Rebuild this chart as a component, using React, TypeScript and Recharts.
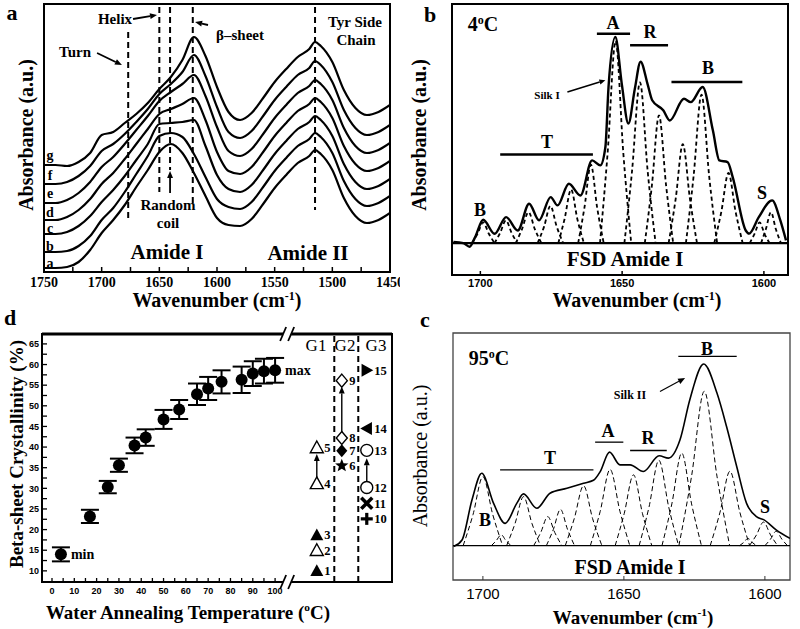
import React from 'react';
import {
  LineChart, Line, XAxis, YAxis, ReferenceLine, ReferenceArea, ReferenceDot,
  ComposedChart, Scatter, ErrorBar,
} from 'recharts';

const SERIF = '"Liberation Serif", "Times New Roman", serif';
const SANS = '"Liberation Sans", Arial, sans-serif';

// ---------------- Panel a : FTIR spectra (a..g) ----------------
const aWavenumbers = [1750, 1740, 1730, 1720, 1710, 1700, 1690, 1680, 1670, 1660, 1650, 1640, 1630, 1620, 1610, 1600, 1590, 1580, 1570, 1560, 1550, 1540, 1530, 1520, 1515, 1510, 1500, 1490, 1480, 1470, 1460, 1450];
const aCurveA = [4, 4, 5, 10, 22, 39, 52, 67, 85, 102, 120, 128, 119, 99, 76, 54, 47, 46, 53, 68, 84, 97, 109, 116, 122, 118, 102, 74, 56, 49, 52, 59];
const aCurveB = [20, 20, 21, 26, 36, 52, 64, 80, 98, 116, 136, 139, 135, 118, 95, 73, 65, 63, 70, 85, 101, 114, 126, 133, 139, 135, 119, 91, 73, 66, 69, 76];
const aCurveC = [38, 38, 40, 46, 56, 70, 82, 96, 112, 128, 148, 149, 150, 152, 126, 97, 83, 80, 87, 102, 118, 131, 143, 150, 156, 152, 136, 108, 90, 83, 86, 93];
const aCurveD = [52, 52, 55, 62, 73, 88, 99, 113, 128, 143, 158, 163, 168, 174, 152, 120, 101, 98, 105, 120, 136, 149, 161, 168, 174, 170, 154, 126, 108, 101, 104, 111];
const aCurveE = [69, 69, 72, 79, 90, 105, 115, 128, 142, 156, 171, 180, 188, 197, 176, 145, 121, 116, 123, 138, 154, 167, 179, 186, 192, 188, 172, 144, 126, 119, 122, 129];
const aCurveF = [88, 88, 90, 96, 106, 121, 128, 138, 150, 163, 178, 188, 200, 217, 196, 165, 140, 134, 141, 156, 172, 185, 197, 204, 211, 207, 190, 162, 144, 137, 140, 147];
const aCurveG = [107, 107, 106, 110, 119, 137, 140, 149, 158, 169, 183, 195, 212, 235, 216, 185, 160, 152, 159, 174, 190, 203, 215, 223, 230, 226, 210, 182, 164, 157, 160, 167];
const aCurveKeys = ['a', 'b', 'c', 'd', 'e', 'f', 'g'];
const aCurves = [aCurveA, aCurveB, aCurveC, aCurveD, aCurveE, aCurveF, aCurveG];
const aTicks = [1750, 1725, 1700, 1675, 1650, 1625, 1600, 1575, 1550, 1525, 1500, 1475, 1450];
// band marker lines: [wavenumber, top, bottom]
const aBandLines = [[1677, 240, 52], [1650, 265, 80], [1640.7, 265, 102], [1621, 265, 67], [1515, 265, 62]];
// annotation arrows: [x1, y1, x2, y2]
const aArrows = [[1704, 219, 1682.4, 207], [1672.8, 253, 1652, 257], [1607.8, 247, 1619, 250], [1640.7, 79, 1640.7, 101]];

const aRows = aWavenumbers.map((x, i) => {
  const r: any = { x };
  aCurveKeys.forEach((k, j) => { r[k] = aCurves[j][i]; });
  return r;
});

// ---------------- Panel b : 4 °C FSD Amide I ----------------
const bSolidWn = [1709.5, 1706, 1703.8, 1701.8, 1699, 1695, 1690.9, 1686.8, 1682.8, 1679.3, 1675.2, 1672.8, 1668.8, 1664.7, 1660.6, 1657.7, 1655.9, 1654.8, 1652.4, 1650.1, 1647.8, 1645.5, 1643.5, 1641, 1639.4, 1635.5, 1633.2, 1628.2, 1625.8, 1621.6, 1618, 1615.7, 1612.8, 1611, 1606.4, 1605.2, 1601.8, 1597.1, 1594.2, 1592.2];
const bSolidAbs = [0.5, 0, -1.8, 3, 11.3, 4.5, 12.6, 6.1, 19.1, 11, 22.3, 18.3, 28.8, 23.1, 40.1, 37.7, 46.6, 75.7, 100, 77, 58, 75, 88, 77, 69.3, 64.4, 59.5, 70, 68.4, 75.7, 54.7, 40.1, 39.3, 32, 6.1, 4.6, 12.6, 20.7, 11, 1.3];
const bComponents: number[][][] = [
  [[1703, 0], [1701, 4.5], [1699, 10], [1697, 4.5], [1695, 0]],
  [[1695, 0], [1693, 5], [1691, 11], [1689, 5], [1687, 0]],
  [[1687.5, 0], [1685.3, 6.8], [1683, 15], [1680.8, 6.8], [1678.5, 0]],
  [[1679.8, 0], [1677.5, 8.1], [1675.3, 18], [1673.1, 8.1], [1670.8, 0]],
  [[1672.5, 0], [1670.3, 11.7], [1668, 26], [1665.8, 11.7], [1663.5, 0]],
  [[1665.5, 0], [1663.3, 17.1], [1661, 38], [1658.8, 17.1], [1656.5, 0]],
  [[1657.8, 0], [1655.1, 44], [1652.3, 98], [1649.6, 44], [1646.8, 0]],
  [[1649.2, 0], [1646.5, 35], [1643.7, 78], [1641, 35], [1638.2, 0]],
  [[1642, 0], [1639.5, 28], [1637, 62], [1634.5, 28], [1632, 0]],
  [[1633.6, 0], [1631.1, 21.6], [1628.6, 48], [1626.1, 21.6], [1623.6, 0]],
  [[1627.5, 0], [1624.8, 32.4], [1622, 72], [1619.3, 32.4], [1616.5, 0]],
  [[1617.5, 0], [1615, 15.3], [1612.5, 34], [1610, 15.3], [1607.5, 0]],
  [[1605, 0], [1603.3, 4.5], [1601.5, 10], [1599.8, 4.5], [1598, 0]],
  [[1601, 0], [1599.3, 6.8], [1597.5, 15], [1595.8, 6.8], [1594, 0]],
];
// assignment bars: [from, to, level]
const bBands = [[1658.9, 1647.2, 101.6], [1647.2, 1633.8, 96], [1632.6, 1607.6, 78.2], [1693, 1660.3, 43]];
const bSilkArrow = [1669.3, 73.3, 1655.9, 79];

// ---------------- Panel c : 95 °C FSD Amide I ----------------
const cSolidWn = [1710.4, 1707.4, 1703.9, 1700.4, 1696.2, 1692.1, 1688, 1685.6, 1680.9, 1676.2, 1670.2, 1664.3, 1660.8, 1658.4, 1655.1, 1651.4, 1647.8, 1643.1, 1637.5, 1634.2, 1630.1, 1626.6, 1621.7, 1617, 1613.6, 1610, 1606.5, 1603, 1600.3, 1595.9, 1591.1];
const cSolidAbs = [-0.5, 3.1, 25, 39.9, 23.3, 12.3, 23.3, 28.5, 20.6, 28.9, 31.6, 34.4, 36, 40.8, 51.5, 44.5, 44.5, 40.8, 49.5, 48.2, 58.3, 80.5, 100, 84, 65.6, 43.6, 23.3, 16, 14.2, 8.6, 4];
const cComponents: number[][][] = [
  [[1707, 0], [1703.5, 17.1], [1700, 38], [1696.5, 17.1], [1693, 0]],
  [[1697, 0], [1695.3, 2.7], [1693.5, 6], [1691.8, 2.7], [1690, 0]],
  [[1691.6, 0], [1688.6, 12.2], [1685.6, 27], [1682.6, 12.2], [1679.6, 0]],
  [[1682, 0], [1679.5, 7.2], [1677, 16], [1674.5, 7.2], [1672, 0]],
  [[1677.5, 0], [1675, 9], [1672.5, 20], [1670, 9], [1667.5, 0]],
  [[1670.8, 0], [1667.6, 14.9], [1664.3, 33], [1661.1, 14.9], [1657.8, 0]],
  [[1661.9, 0], [1658.4, 18.9], [1654.9, 42], [1651.4, 18.9], [1647.9, 0]],
  [[1653.1, 0], [1649.9, 17.6], [1646.6, 39], [1643.4, 17.6], [1640.1, 0]],
  [[1644.6, 0], [1641.1, 21.2], [1637.6, 47], [1634.1, 21.2], [1630.6, 0]],
  [[1636.5, 0], [1633, 23], [1629.5, 51], [1626, 23], [1622.5, 0]],
  [[1630.5, 0], [1626, 38.3], [1621.5, 85], [1617, 38.3], [1612.5, 0]],
  [[1619.4, 0], [1615.9, 18.5], [1612.4, 41], [1608.9, 18.5], [1605.4, 0]],
  [[1609, 0], [1607.5, 1.8], [1606, 4], [1604.5, 1.8], [1603, 0]],
  [[1605.5, 0], [1603, 5.9], [1600.5, 13], [1598, 5.9], [1595.5, 0]],
  [[1600, 0], [1598, 3.6], [1596, 8], [1594, 3.6], [1592, 0]],
];
const cBands = [[1630.7, 1610, 104.2], [1660.2, 1650.2, 57], [1647.8, 1634.8, 52.4], [1693.9, 1660.8, 41.7]];
const cSilkArrow = [1637.2, 84.9, 1628.3, 92.3];

// ---------------- Panel d : crystallinity ----------------
const dTemps = [4, 17, 25, 30, 37, 42, 50, 57, 65, 70, 76, 85, 90, 95, 100];
const dCryst = [14.0, 23.2, 30.3, 35.6, 40.4, 42.3, 46.7, 49.1, 52.8, 54.2, 55.8, 56.3, 57.8, 58.4, 58.6];
const dErr = [1.7, 1.6, 1.5, 1.6, 1.9, 2.0, 2.3, 2.3, 2.6, 2.8, 2.8, 3.2, 3.0, 3.0, 3.0];
const dNotes = ['min', '', '', '', '', '', '', '', '', '', '', '', '', '', 'max'];
const sampleIds = [1, 2, 3, 4, 5, 6, 7, 8, 9, 10, 11, 12, 13, 14, 15];
const sampleGroup = [1, 1, 1, 1, 1, 2, 2, 2, 2, 3, 3, 3, 3, 3, 3];
const sampleCryst = [10, 15, 18.7, 31.2, 39.9, 35.5, 39.1, 42.2, 56.1, 22.6, 26.4, 30.2, 39.2, 44.5, 58.6];
const sampleMarker = ['triF', 'triO', 'triF', 'triO', 'triO', 'star', 'diaF', 'diaO', 'diaO', 'plus', 'x', 'circO', 'circO', 'triL', 'triR'];
const groupNames = ['G1', 'G2', 'G3'];
const groupArrows = [[1, 32.4, 38.3], [2, 43.4, 54.7], [3, 31.6, 37.3]];
const groupSeparators = [1.7, 2.66];
const dTempTicks = [0, 5, 10, 15, 20, 25, 30, 35, 40, 45, 50, 55, 60, 65, 70, 75, 80, 85, 90, 95, 100];
const dCrystTicks = [10, 12.5, 15, 17.5, 20, 22.5, 25, 27.5, 30, 32.5, 35, 37.5, 40, 42.5, 45, 47.5, 50, 52.5, 55, 57.5, 60, 62.5, 65];
const dBreakAt = 105.4;

const dRows = dTemps.map((t, i) => ({ t, v: dCryst[i], e: dErr[i], note: dNotes[i] }));
const sRows = sampleIds.map((id, i) => ({ g: sampleGroup[i], v: sampleCryst[i], id, m: sampleMarker[i] }));

const pairsToRows = (pts: number[][]) => pts.map(([x, y]) => ({ x, y }));
const zip = (xs: number[], ys: number[]) => xs.map((x, i) => ({ x, y: ys[i] }));

// ---------------- helpers ----------------
const arrowShape = (head: number, w: number) => (p: any) => {
  const { x1, y1, x2, y2 } = p;
  const ang = Math.atan2(y2 - y1, x2 - x1);
  const hx = x2 - head * Math.cos(ang);
  const hy = y2 - head * Math.sin(ang);
  const px = Math.cos(ang + Math.PI / 2) * head * 0.42;
  const py = Math.sin(ang + Math.PI / 2) * head * 0.42;
  return (
    <g>
      <line x1={x1} y1={y1} x2={hx} y2={hy} stroke="#000" strokeWidth={w} />
      <polygon points={`${x2},${y2} ${hx + px},${hy + py} ${hx - px},${hy - py}`} fill="#000" />
    </g>
  );
};

const breakShape = (p: any) => {
  const { cx, cy } = p;
  return (
    <g>
      <rect x={cx - 4} y={cy - 6} width={8} height={12} fill="#fff" />
      <line x1={cx - 7} y1={cy + 7} x2={cx - 1} y2={cy - 7} stroke="#000" strokeWidth={1.8} />
      <line x1={cx + 1} y1={cy + 7} x2={cx + 7} y2={cy - 7} stroke="#000" strokeWidth={1.8} />
    </g>
  );
};

const starPts = (cx: number, cy: number, R: number, r: number) =>
  Array.from({ length: 10 }, (_, i) => {
    const a = -Math.PI / 2 + (i * Math.PI) / 5;
    const rad = i % 2 === 0 ? R : r;
    return `${cx + rad * Math.cos(a)},${cy + rad * Math.sin(a)}`;
  }).join(' ');

const GroupMarker = (p: any) => {
  const { cx, cy, payload } = p;
  const s = 6.5;
  let mark: any = null;
  const open = { fill: '#fff', stroke: '#000', strokeWidth: 1.4 };
  switch (payload.m) {
    case 'triF': mark = <polygon points={`${cx},${cy - s} ${cx + s},${cy + s * 0.8} ${cx - s},${cy + s * 0.8}`} fill="#000" />; break;
    case 'triO': mark = <polygon points={`${cx},${cy - s} ${cx + s},${cy + s * 0.8} ${cx - s},${cy + s * 0.8}`} {...open} />; break;
    case 'star': mark = <polygon points={starPts(cx, cy, 7, 3)} fill="#000" />; break;
    case 'diaF': mark = <polygon points={`${cx},${cy - s} ${cx + s * 0.85},${cy} ${cx},${cy + s} ${cx - s * 0.85},${cy}`} fill="#000" />; break;
    case 'diaO': mark = <polygon points={`${cx},${cy - s} ${cx + s * 0.85},${cy} ${cx},${cy + s} ${cx - s * 0.85},${cy}`} {...open} />; break;
    case 'plus': mark = (<g><line x1={cx - 6} y1={cy} x2={cx + 6} y2={cy} stroke="#000" strokeWidth={3.2} /><line x1={cx} y1={cy - 6} x2={cx} y2={cy + 6} stroke="#000" strokeWidth={3.2} /></g>); break;
    case 'x': mark = (<g><line x1={cx - 5.5} y1={cy - 5.5} x2={cx + 5.5} y2={cy + 5.5} stroke="#000" strokeWidth={3.5} /><line x1={cx - 5.5} y1={cy + 5.5} x2={cx + 5.5} y2={cy - 5.5} stroke="#000" strokeWidth={3.5} /></g>); break;
    case 'circO': mark = <circle cx={cx} cy={cy} r={6} {...open} />; break;
    case 'triL': mark = <polygon points={`${cx - s},${cy} ${cx + s * 0.8},${cy - s} ${cx + s * 0.8},${cy + s}`} fill="#000" />; break;
    case 'triR': mark = <polygon points={`${cx + s},${cy} ${cx - s * 0.8},${cy - s} ${cx - s * 0.8},${cy + s}`} fill="#000" />; break;
    default: break;
  }
  return (
    <g>
      {mark}
      <text x={cx + 7.5} y={cy + 4.5} fontFamily={SERIF} fontWeight={700} fontSize={12.5} fill="#000">{payload.id}</text>
    </g>
  );
};

const CrystDot = (p: any) => (
  <g>
    <circle cx={p.cx} cy={p.cy} r={6} fill="#000" />
    {p.payload.note ? (
      <text x={p.cx + 10} y={p.cy + 5} fontFamily={SERIF} fontWeight={700} fontSize={14} fill="#000">{p.payload.note}</text>
    ) : null}
  </g>
);

const Txt = ({ x, y, size, weight = 700, family = SERIF, rotate = 0, children }: any) => (
  <div
    style={{
      position: 'absolute', left: x, top: y,
      transform: `translate(-50%, -50%) rotate(${rotate}deg)`,
      fontSize: size, fontWeight: weight, fontFamily: family,
      whiteSpace: 'nowrap', lineHeight: 1, color: '#000',
    }}
  >
    {children}
  </div>
);
const Sup = ({ children }: any) => (
  <span style={{ fontSize: '0.6em', verticalAlign: '0.65em' }}>{children}</span>
);

const box = (left: number, top: number): React.CSSProperties => ({ position: 'absolute', left, top });

// ---------------- charts ----------------
const PanelA = () => (
  <LineChart width={400} height={310} data={aRows} margin={{ top: 4, right: 10, left: 44, bottom: 0 }}>
    <XAxis
      dataKey="x" type="number" domain={[1450, 1750]} reversed allowDataOverflow
      ticks={aTicks} interval={0} height={38} axisLine={false}
      tickSize={-5} tickMargin={10} tickLine={{ stroke: '#000', strokeWidth: 1.5 }}
      tickFormatter={(v: number) => (v % 50 === 0 ? String(v) : '')}
      tick={{ fontFamily: SERIF, fontWeight: 700, fontSize: 14, fill: '#000' }}
    />
    <YAxis hide type="number" domain={[0, 268]} allowDataOverflow />
    <ReferenceArea x1={1750} x2={1450} y1={0} y2={268} fill="none" stroke="#000" strokeWidth={2} ifOverflow="visible" />
    {aBandLines.map(([x, y1, y2], i) => (
      <ReferenceLine key={'bl' + i} segment={[{ x, y: y1 }, { x, y: y2 }]} stroke="#000" strokeWidth={2} strokeDasharray="6 4" />
    ))}
    {aArrows.map(([x1, y1, x2, y2], i) => (
      <ReferenceLine key={'ar' + i} segment={[{ x: x1, y: y1 }, { x: x2, y: y2 }]} shape={arrowShape(7, 1.8)} />
    ))}
    {aCurveKeys.map((k) => (
      <Line key={k} dataKey={k} type="monotone" stroke="#000" strokeWidth={2.2} dot={false} isAnimationActive={false} />
    ))}
  </LineChart>
);

const PanelB = () => (
  <LineChart width={400} height={310} margin={{ top: 4, right: 12, left: 52, bottom: 0 }}>
    <XAxis
      dataKey="x" type="number" domain={[1591.5, 1710]} reversed allowDataOverflow
      ticks={[1700, 1650, 1600]} interval={0} height={35} axisLine={false}
      tickSize={-4} tickMargin={8} tickLine={{ stroke: '#000', strokeWidth: 1.5 }}
      tick={{ fontFamily: SANS, fontWeight: 700, fontSize: 11, fill: '#000' }}
    />
    <YAxis hide type="number" domain={[-15.5, 116]} allowDataOverflow />
    <ReferenceArea x1={1710} x2={1591.5} y1={-15.5} y2={116} fill="none" stroke="#000" strokeWidth={2} ifOverflow="visible" />
    <ReferenceLine y={0} stroke="#000" strokeWidth={2.2} />
    {bBands.map(([a, b, lv], i) => (
      <ReferenceLine key={'bb' + i} segment={[{ x: a, y: lv }, { x: b, y: lv }]} stroke="#000" strokeWidth={2.5} />
    ))}
    <ReferenceLine segment={[{ x: bSilkArrow[0], y: bSilkArrow[1] }, { x: bSilkArrow[2], y: bSilkArrow[3] }]} shape={arrowShape(6, 1.6)} />
    {bComponents.map((c, i) => (
      <Line key={'bc' + i} data={pairsToRows(c)} dataKey="y" type="monotone" stroke="#000" strokeWidth={1.8} strokeDasharray="4 3" dot={false} isAnimationActive={false} />
    ))}
    <Line data={zip(bSolidWn, bSolidAbs)} dataKey="y" type="monotone" stroke="#000" strokeWidth={2.4} dot={false} isAnimationActive={false} />
  </LineChart>
);

const PanelC = () => (
  <LineChart width={400} height={324} margin={{ top: 28, right: 10, left: 53, bottom: 0 }}>
    <XAxis
      dataKey="x" type="number" domain={[1591.1, 1710.6]} reversed allowDataOverflow
      ticks={[1700, 1650, 1600]} interval={0} height={49} axisLine={false}
      tickSize={-4} tickMargin={12} tickLine={{ stroke: '#333', strokeWidth: 1 }}
      tick={{ fontFamily: SANS, fontWeight: 400, fontSize: 15, fill: '#000' }}
    />
    <YAxis hide type="number" domain={[-18.9, 117.1]} allowDataOverflow />
    <ReferenceArea x1={1710.6} x2={1591.1} y1={-18.9} y2={117.1} fill="none" stroke="#444" strokeWidth={1.3} ifOverflow="visible" />
    <ReferenceLine y={0} stroke="#000" strokeWidth={1.3} />
    {cBands.map(([a, b, lv], i) => (
      <ReferenceLine key={'cb' + i} segment={[{ x: a, y: lv }, { x: b, y: lv }]} stroke="#000" strokeWidth={1.3} />
    ))}
    <ReferenceLine segment={[{ x: cSilkArrow[0], y: cSilkArrow[1] }, { x: cSilkArrow[2], y: cSilkArrow[3] }]} shape={arrowShape(7, 1.2)} />
    {cComponents.map((c, i) => (
      <Line key={'cc' + i} data={pairsToRows(c)} dataKey="y" type="monotone" stroke="#000" strokeWidth={1} strokeDasharray="5 3" dot={false} isAnimationActive={false} />
    ))}
    <Line data={zip(cSolidWn, cSolidAbs)} dataKey="y" type="monotone" stroke="#000" strokeWidth={1.6} dot={false} isAnimationActive={false} />
  </LineChart>
);

const PanelD = () => (
  <ComposedChart width={400} height={324} margin={{ top: 29, right: 8, left: 0, bottom: 0 }}>
    <XAxis
      xAxisId="t" dataKey="t" type="number" domain={[-4.48, 152.4]} allowDataOverflow
      ticks={dTempTicks} interval={0} height={47} axisLine={false}
      tickSize={-4} tickMargin={10} tickLine={{ stroke: '#000', strokeWidth: 1.3 }}
      tickFormatter={(v: number) => (v % 10 === 0 ? String(v) : '')}
      tick={{ fontFamily: SANS, fontWeight: 700, fontSize: 9, fill: '#000' }}
    />
    <XAxis xAxisId="grp" dataKey="g" type="number" domain={[-10, 4.01]} allowDataOverflow hide height={0} />
    <YAxis
      yAxisId="v" dataKey="v" type="number" domain={[7.3, 67.4]} allowDataOverflow
      ticks={dCrystTicks} interval={0} width={42} axisLine={false}
      tickSize={-5} tickMargin={8} tickLine={{ stroke: '#000', strokeWidth: 1.3 }}
      tickFormatter={(v: number) => (v % 5 === 0 ? String(v) : '')}
      tick={{ fontFamily: SANS, fontWeight: 700, fontSize: 9, fill: '#000' }}
    />
    <YAxis
      yAxisId="r" orientation="right" type="number" domain={[7.3, 67.4]} allowDataOverflow
      ticks={dCrystTicks} interval={0} width={0} axisLine={false}
      tickSize={-5} tickLine={{ stroke: '#000', strokeWidth: 1.3 }}
      tickFormatter={() => ''}
    />
    <ReferenceArea xAxisId="t" yAxisId="v" x1={-4.48} x2={152.4} y1={7.3} y2={67.4} fill="none" stroke="#000" strokeWidth={2} ifOverflow="visible" />
    <ReferenceLine xAxisId="t" yAxisId="v" y={67.4} stroke="#000" strokeWidth={3} ifOverflow="visible" />
    {groupSeparators.map((g, i) => (
      <ReferenceLine key={'sep' + i} xAxisId="grp" yAxisId="v" x={g} stroke="#000" strokeWidth={2} strokeDasharray="6 4" />
    ))}
    {groupArrows.map(([g, a, b], i) => (
      <ReferenceLine key={'ga' + i} xAxisId="grp" yAxisId="v" segment={[{ x: g, y: a }, { x: g, y: b }]} shape={arrowShape(7, 1.4)} />
    ))}
    <ReferenceDot xAxisId="t" yAxisId="v" x={dBreakAt} y={67.4} ifOverflow="visible" shape={breakShape} />
    <ReferenceDot xAxisId="t" yAxisId="v" x={dBreakAt} y={7.3} ifOverflow="visible" shape={breakShape} />
    <Scatter xAxisId="t" yAxisId="v" data={dRows} dataKey="v" shape={CrystDot} isAnimationActive={false}>
      <ErrorBar dataKey="e" direction="y" width={9} stroke="#000" strokeWidth={2} />
    </Scatter>
    <Scatter xAxisId="grp" yAxisId="v" data={sRows} dataKey="v" shape={GroupMarker} isAnimationActive={false} />
  </ComposedChart>
);

export default function App() {
  return (
    <div style={{ position: 'absolute', left: 0, top: 0, width: 800, height: 629, background: '#fff', overflow: 'hidden' }}>
      <div style={box(0, 0)}><PanelA /></div>
      <div style={box(400, 0)}><PanelB /></div>
      <div style={box(0, 305)}><PanelD /></div>
      <div style={box(400, 305)}><PanelC /></div>

      {/* Panel a text */}
      <Txt x={12} y={13} size={22}>a</Txt>
      <Txt x={26} y={135} size={20} rotate={-90}>Absorbance (a.u.)</Txt>
      <Txt x={217} y={300} size={20}>Wavenumber (cm<Sup>-1</Sup>)</Txt>
      <Txt x={75} y={52} size={15}>Turn</Txt>
      <Txt x={115} y={19} size={15}>Helix</Txt>
      <Txt x={240} y={35} size={15}>β–sheet</Txt>
      <Txt x={355} y={22} size={15}>Tyr Side</Txt>
      <Txt x={356} y={40} size={15}>Chain</Txt>
      <Txt x={168} y={205} size={15}>Random</Txt>
      <Txt x={168} y={223} size={15}>coil</Txt>
      <Txt x={167} y={252} size={21}>Amide I</Txt>
      <Txt x={308} y={253} size={21}>Amide II</Txt>
      {['g', 'f', 'e', 'd', 'c', 'b', 'a'].map((k, i) => (
        <Txt key={'lab' + k} x={50} y={[156, 176, 194, 213, 229, 247, 264][i]} size={14}>{k}</Txt>
      ))}

      {/* Panel b text */}
      <Txt x={430} y={15} size={22}>b</Txt>
      <Txt x={419} y={135} size={20} rotate={-90}>Absorbance (a.u.)</Txt>
      <Txt x={637} y={300} size={20}>Wavenumber (cm<Sup>-1</Sup>)</Txt>
      <Txt x={483} y={24} size={20}>4<Sup>o</Sup>C</Txt>
      <Txt x={613} y={23} size={18}>A</Txt>
      <Txt x={650} y={32} size={18}>R</Txt>
      <Txt x={708} y={68} size={18}>B</Txt>
      <Txt x={547} y={142} size={18}>T</Txt>
      <Txt x={480} y={210} size={18}>B</Txt>
      <Txt x={762} y={193} size={18}>S</Txt>
      <Txt x={547} y={95} size={11}>Silk I</Txt>
      <Txt x={625} y={259} size={21}>FSD Amide I</Txt>

      {/* Panel d text */}
      <Txt x={10} y={318} size={22}>d</Txt>
      <Txt x={16} y={454} size={19} rotate={-90}>Beta-sheet Crystallinity (%)</Txt>
      <Txt x={188} y={612} size={19}>Water Annealing Temperature (<Sup>o</Sup>C)</Txt>
      {groupNames.map((g, i) => (
        <Txt key={g} x={[316, 345, 376][i]} y={345} size={17} weight={400}>{g}</Txt>
      ))}

      {/* Panel c text */}
      <Txt x={425} y={320} size={22}>c</Txt>
      <Txt x={420} y={456} size={20} weight={400} rotate={-90}>Absorbance (a.u.)</Txt>
      <Txt x={633} y={617} size={19}>Wavenumber (cm<Sup>-1</Sup>)</Txt>
      <Txt x={489} y={358} size={20}>95<Sup>o</Sup>C</Txt>
      <Txt x={707} y={349} size={18}>B</Txt>
      <Txt x={630} y={395} size={12}>Silk II</Txt>
      <Txt x={608} y={431} size={18}>A</Txt>
      <Txt x={648} y={438} size={18}>R</Txt>
      <Txt x={550} y={458} size={18}>T</Txt>
      <Txt x={485} y={520} size={18}>B</Txt>
      <Txt x={765} y={507} size={18}>S</Txt>
      <Txt x={630} y={567} size={20}>FSD Amide I</Txt>
    </div>
  );
}
